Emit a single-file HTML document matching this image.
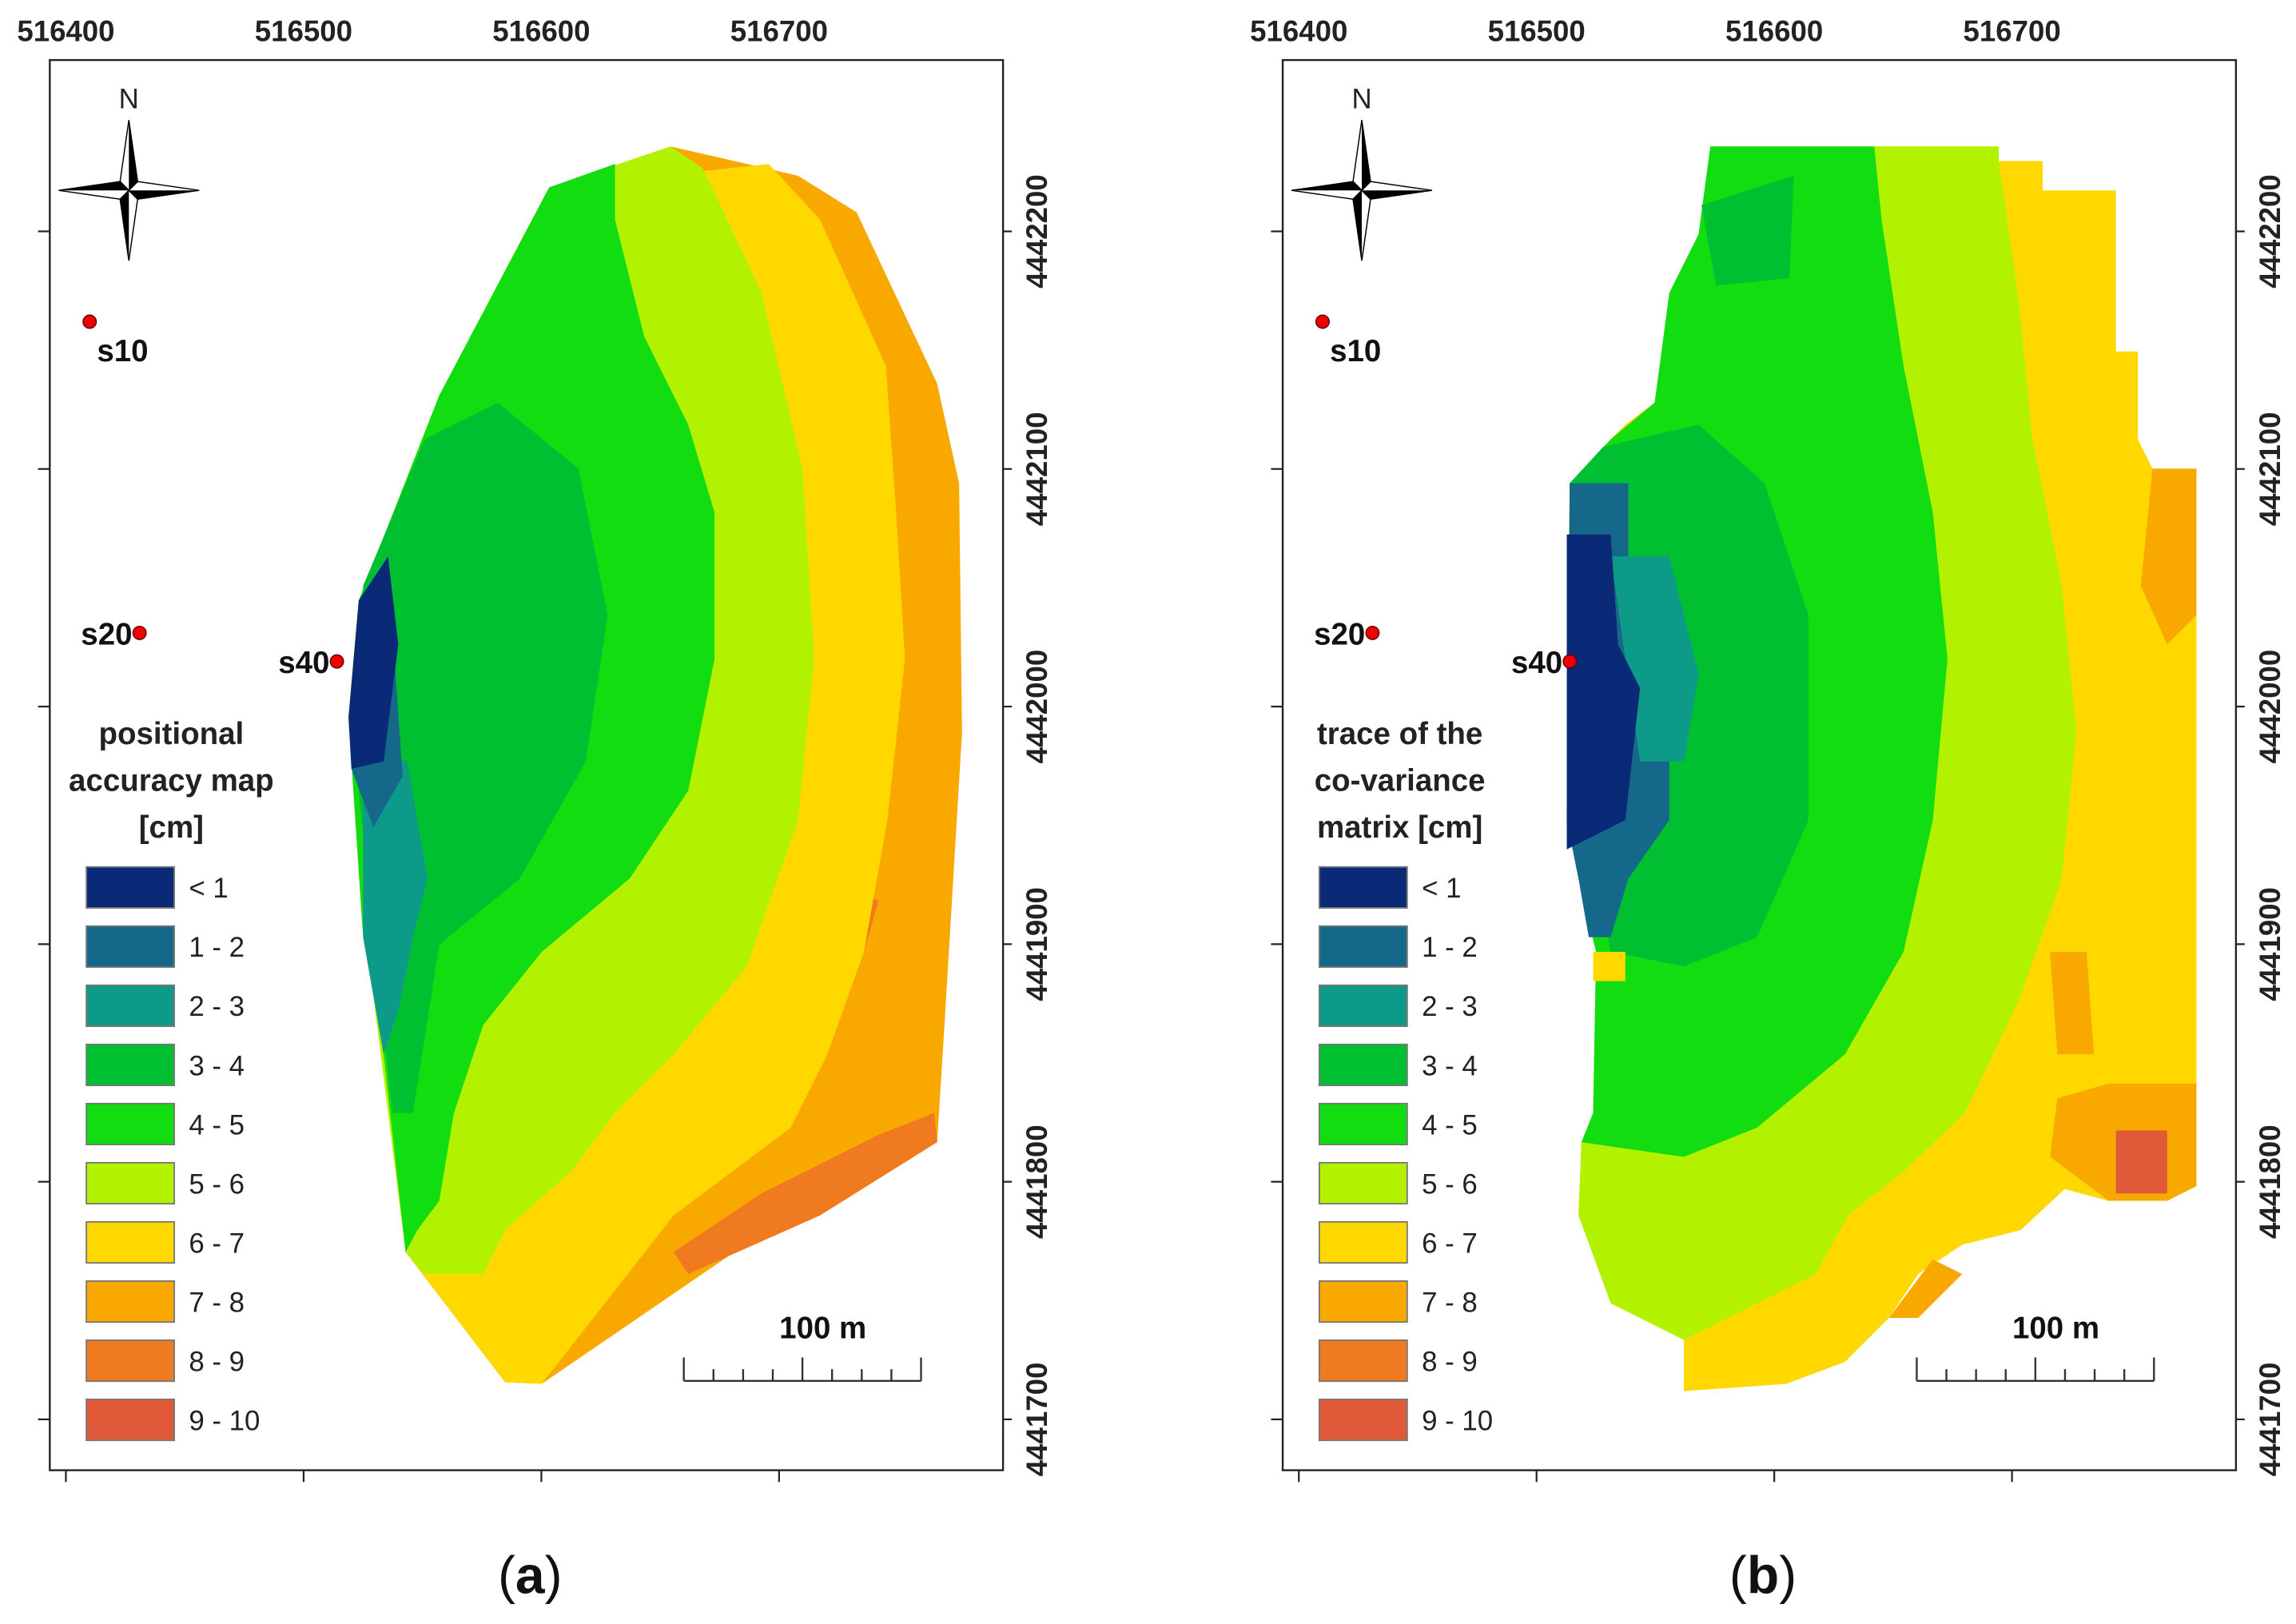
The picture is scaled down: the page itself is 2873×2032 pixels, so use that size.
<!DOCTYPE html>
<html><head><meta charset="utf-8"><style>
html,body{margin:0;padding:0;background:#fff;}
svg{display:block;}
text{font-family:"Liberation Sans",Arial,sans-serif;}
</style></head>
<body>
<svg id="fig" width="2873" height="2032" viewBox="0 0 1568 1109" preserveAspectRatio="none" xmlns="http://www.w3.org/2000/svg">
<rect width="1568" height="1109" fill="#fff"/>
</svg>
<script>
const NS="http://www.w3.org/2000/svg";
const xTicks=[516400,516500,516600,516700];
const xTickLabels=["516400","516500","516600","516700"];
const yTicks=[4442200,4442100,4442000,4441900,4441800,4441700];
const yTickLabels=["4442200","4442100","4442000","4441900","4441800","4441700"];
const classes=["< 1","1 - 2","2 - 3","3 - 4","4 - 5","5 - 6","6 - 7","7 - 8","8 - 9","9 - 10"];
const classColors=["#0A2A78","#16688A","#0E9A88","#00C032","#11DD11","#B2F200","#FFD800","#F9A800","#F07A20","#E05A3A"];
const stations=["s10","s20","s40"];
const stationE=[516410,516431,516514];
const stationN=[4442162,4442031,4442019];
const panelOffsets=[0,842];
const legendTitles=[["positional","accuracy map","[cm]"],["trace of the","co-variance","matrix [cm]"]];
const captions=["a","b"];

const svg=document.getElementById('fig');
function mk(tag,attrs,parent){const e=document.createElementNS(NS,tag);for(const k in attrs)e.setAttribute(k,attrs[k]);(parent||svg).appendChild(e);return e;}
function xScale(e,off){return 45+off+(e-516400)*1.6235;}
function yScale(n){return 158+(4442200-n)*1.6225;}

const zonesA=[
 [7,"375,128 458,100 545,120 585,145 640,262 655,330 657,500 645,700 640,780 560,815 370,945 345,944 277,855 262,720 248,640 238,490 245,410 300,270"],
 [8,"470,870 560,830 640,780 638,760 600,775 520,815 460,855"],
 [8,"550,640 575,605 600,615 590,650 565,665"],
 [6,"375,128 525,112 560,150 605,250 612,350 618,450 606,560 590,650 565,720 540,770 460,830 370,945 345,944 277,855 250,640 238,490 245,410 300,270"],
 [5,"375,128 458,100 480,115 520,200 548,320 556,450 545,560 510,660 460,720 420,760 390,800 345,840 330,870 290,870 277,855 250,640 238,490 245,410 300,270"],
 [4,"375,128 420,112 420,150 440,230 470,290 488,350 488,450 470,540 430,600 370,650 330,700 310,760 300,820 285,840 277,855 262,720 248,640 238,490 245,410 300,270"],
 [3,"290,300 340,275 395,320 415,420 400,520 355,600 300,645 282,760 268,760 255,640 243,520 248,400"],
 [2,"248,520 278,520 292,600 282,640 272,690 262,720 248,640"],
 [1,"242,460 268,430 275,530 255,565 240,525"],
 [0,"245,410 265,380 272,440 262,520 240,525 238,490"]
];
const zonesB=[
 [6,"1168,100 1365,100 1365,110 1395,110 1395,130 1445,130 1445,240 1460,240 1460,300 1470,320 1500,320 1500,810 1480,820 1440,820 1410,812 1380,840 1340,850 1310,870 1290,900 1260,930 1220,945 1150,950 1150,915 1100,890 1095,860 1078,830 1080,780 1088,760 1090,650 1078,600 1070,560 1072,330 1085,320 1100,300 1110,290 1130,275 1140,250 1140,200 1160,190 1160,160 1170,150"],
 [7,"1470,320 1500,320 1500,420 1480,440 1462,400"],
 [7,"1440,740 1500,740 1500,810 1480,820 1440,820 1400,790 1405,750"],
 [7,"1400,650 1425,650 1430,720 1405,720"],
 [7,"1290,900 1320,860 1340,870 1310,900"],
 [9,"1445,772 1480,772 1480,815 1445,815"],
 [5,"1280,100 1365,100 1365,110 1378,200 1388,300 1408,400 1418,500 1408,600 1380,680 1342,760 1300,800 1262,830 1240,870 1200,890 1150,915 1100,890 1078,830 1080,780 1200,770 1260,720 1300,650 1320,560 1330,450 1320,350 1300,250 1285,150"],
 [4,"1168,100 1280,100 1285,150 1300,250 1320,350 1330,450 1320,560 1300,650 1260,720 1200,770 1150,790 1080,780 1088,760 1090,650 1078,600 1070,560 1072,330 1100,300 1130,275 1140,200 1160,160"],
 [3,"1162,140 1225,120 1222,190 1172,195"],
 [3,"1095,305 1160,290 1205,330 1235,420 1235,560 1200,640 1150,660 1100,650 1090,600 1072,560 1072,330"],
 [1,"1072,330 1112,330 1112,400 1140,430 1140,560 1112,600 1100,640 1085,640 1078,600 1070,560"],
 [2,"1100,380 1140,380 1160,460 1150,520 1120,520"],
 [0,"1070,365 1100,365 1105,440 1120,470 1110,560 1070,580"],
 [6,"1088,650 1110,650 1110,670 1088,670"]
];

panelOffsets.forEach((off,p)=>{
  const g=mk('g',{});
  
  
  const zg=mk('g',{},g);
  
  
  (p===0?zonesA:zonesB).forEach(z=>{
    const pl=mk('polygon',{points:z[1],fill:classColors[z[0]]},zg);
    
    
  });
  const fr=mk('rect',{x:34+off,y:41,width:651,height:963,fill:'none',stroke:'#222','stroke-width':1.3},g);
  
  
  xTicks.forEach((t,i)=>{
    const x=xScale(t,off);
    mk('line',{x1:x,y1:1004,x2:x,y2:1012,stroke:'#222','stroke-width':1.2},g);
    const tx=mk('text',{x:x,y:28,'text-anchor':'middle','font-size':20,'font-weight':'bold',fill:'#222'},g);
    tx.textContent=xTickLabels[i];
    
    
  });
  yTicks.forEach((t,i)=>{
    const y=yScale(t);
    mk('line',{x1:26+off,y1:y,x2:34+off,y2:y,stroke:'#222','stroke-width':1.2},g);
    mk('line',{x1:685+off,y1:y,x2:691+off,y2:y,stroke:'#222','stroke-width':1.2},g);
    const tx=mk('text',{x:0,y:0,'text-anchor':'middle','font-size':20,'font-weight':'bold',fill:'#222',transform:`translate(${715+off},${y}) rotate(-90)`},g);
    tx.textContent=yTickLabels[i];
    
    
  });
  const cg=mk('g',{transform:`translate(${88+off},130)`},g);
  
  
  mk('polygon',{points:"0,-48 6,-6 0,0 -6,-6",fill:'#fff',stroke:'#000','stroke-width':0.8},cg);
  mk('polygon',{points:"0,-48 6,-6 0,0",fill:'#000'},cg);
  mk('polygon',{points:"0,48 -6,6 0,0 6,6",fill:'#fff',stroke:'#000','stroke-width':0.8},cg);
  mk('polygon',{points:"0,48 -6,6 0,0",fill:'#000'},cg);
  mk('polygon',{points:"-48,0 -6,-6 0,0 -6,6",fill:'#fff',stroke:'#000','stroke-width':0.8},cg);
  mk('polygon',{points:"-48,0 -6,-6 0,0",fill:'#000'},cg);
  mk('polygon',{points:"48,0 6,6 0,0 6,-6",fill:'#fff',stroke:'#000','stroke-width':0.8},cg);
  mk('polygon',{points:"48,0 6,6 0,0",fill:'#000'},cg);
  const nt=mk('text',{x:0,y:-56,'text-anchor':'middle','font-size':19,'font-family':'Liberation Serif, serif',fill:'#222'},cg);
  nt.textContent='N';
  stations.forEach((s,i)=>{
    const x=xScale(stationE[i],off),y=yScale(stationN[i]);
    const c=mk('circle',{cx:x,cy:y,r:4.5,fill:'#e00',stroke:'#600','stroke-width':0.8},g);
    
    
    const t=i===0?mk('text',{x:x+5,y:y+27,'font-size':21,'font-weight':'bold',fill:'#111'},g)
                 :mk('text',{x:x-5,y:y+8,'text-anchor':'end','font-size':21,'font-weight':'bold',fill:'#111'},g);
    t.textContent=s;
    
    
  });
  const lg=mk('g',{},g);
  
  
  legendTitles[p].forEach((l,i)=>{
    const t=mk('text',{x:(p===0?117:114)+off,y:508+i*32,'text-anchor':'middle','font-size':21,'font-weight':'bold',fill:'#222'},lg);
    t.textContent=l;
  });
  classes.forEach((c,i)=>{
    const y=592+i*40.4;
    const r=mk('rect',{x:59+off,y:y,width:60,height:28,fill:classColors[i],stroke:'#777','stroke-width':1},lg);
    
    
    const t=mk('text',{x:129+off,y:y+21,'font-size':19,fill:'#222'},lg);
    t.textContent=c;
    
    
  });
  const sb=mk('g',{},g);
  
  
  const st=mk('text',{x:562+off,y:914,'text-anchor':'middle','font-size':21,'font-weight':'bold',fill:'#111'},sb);
  st.textContent='100 m';
  mk('line',{x1:467+off,y1:943,x2:629+off,y2:943,stroke:'#333','stroke-width':1.3},sb);
  for(let k=0;k<=8;k++){
    const x=467+off+k*162/8;
    const h=(k===0||k===4||k===8)?16:8;
    mk('line',{x1:x,y1:943,x2:x,y2:943-h,stroke:'#333','stroke-width':1.3},sb);
  }
  const cap=mk('text',{x:362+off,y:1088,'text-anchor':'middle','font-size':36,'font-family':'Liberation Serif, serif',fill:'#111'},g);
  
  
  cap.innerHTML='(<tspan font-weight="bold">'+captions[p]+'</tspan>)';
});
</script>
</body></html>
